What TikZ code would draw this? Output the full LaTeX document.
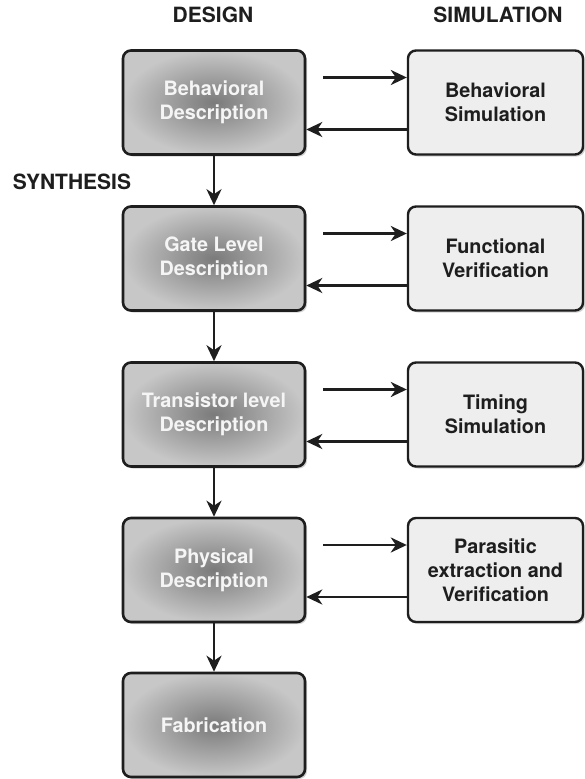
\documentclass[tikz,border=0pt]{standalone}
\usepackage{fontspec}
\setmainfont{TeX Gyre Heros}
\usetikzlibrary{arrows.meta,shadows}
\definecolor{txtdark}{HTML}{1E1E1E}
\definecolor{simfill}{HTML}{EEEEEE}
\tikzset{
  design/.style={draw=txtdark, line width=2.6pt, rounded corners=8pt,
    minimum width=182pt, minimum height=104pt, inner sep=0pt,
    shading=radial, inner color=black!52, outer color=black!22,
    drop shadow={shadow xshift=2pt, shadow yshift=-2pt, opacity=0.35},
    text=white!96!black, font=\bfseries\fontsize{19.8}{24}\selectfont, align=center},
  sim/.style={draw=txtdark, line width=2.4pt, rounded corners=8pt,
    minimum width=175pt, minimum height=104pt, inner sep=0pt, fill=simfill,
    drop shadow={shadow xshift=2pt, shadow yshift=-2pt, opacity=0.35},
    text=txtdark, font=\bfseries\fontsize{19.8}{24}\selectfont, align=center},
  header/.style={text=txtdark, font=\bfseries\fontsize{21}{24}\selectfont},
  arr/.style={draw=txtdark, line width=2.6pt, -{Stealth[length=16pt,width=15pt,inset=5pt]}}
}
\begin{document}
\begin{tikzpicture}[x=1pt,y=-1pt]
\useasboundingbox[fill=white] (0,0) rectangle (584,779);
\node[header] (hd) at (213,15) {DESIGN};
\node[header] (hs) at (498,15) {SIMULATION};
\node[header] (hy) at (72,182) {SYNTHESIS};

\node[design] (l1) at (214,102.5) {Behavioral\\Description};
\node[design] (l2) at (214,258.5) {Gate Level\\Description};
\node[design] (l3) at (214,414.5) {Transistor level\\Description};
\node[design] (l4) at (214,570) {Physical\\Description};
\node[design] (l5) at (214,725) {Fabrication};

\node[sim] (s1) at (495.5,102.5) {Behavioral\\Simulation};
\node[sim] (s2) at (495.5,258.5) {Functional\\Verification};
\node[sim] (s3) at (495.5,414.5) {Timing\\Simulation};
\node[sim] (s4) at (495.5,570) {Parasitic\\extraction and\\Verification};

\foreach \a/\b in {l1/l2,l2/l3,l3/l4,l4/l5}
  \draw[arr] (\a.south) -- (\b.north);

\foreach \i in {1,2,3,4}{
  \draw[arr] ([xshift=17pt,yshift=25pt]l\i.east) -- ([yshift=25pt]s\i.west);
  \draw[arr] ([yshift=-27pt]s\i.west) -- ([yshift=-27pt]l\i.east);
}
\end{tikzpicture}
\end{document}
